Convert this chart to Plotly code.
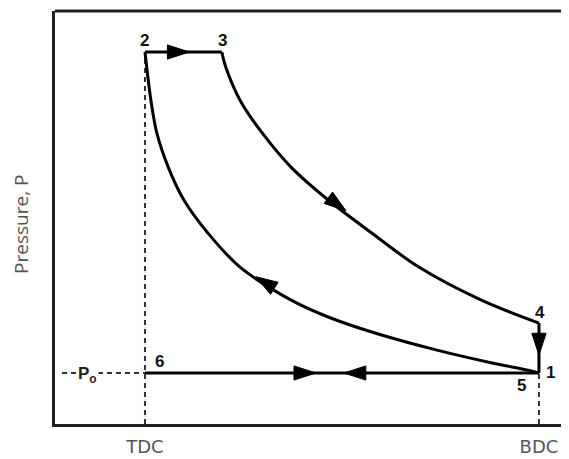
import plotly.graph_objects as go

# ---- data (volume V in arbitrary units, TDC=1, BDC=9; pressure P, P0=1) ----
# compression 1 -> 2
comp_V = [9.0, 8.78, 8.05, 6.93, 5.67, 4.72, 3.96, 2.93, 2.28, 1.79, 1.47, 1.24, 1.12, 1.0]
comp_P = [1.0, 1.08, 1.28, 1.64, 2.12, 2.57, 3.05, 3.97, 4.92, 5.85, 6.78, 7.73, 8.65, 10.0]
# expansion 3 -> 4
exp_V = [2.56, 2.64, 2.93, 3.38, 3.96, 4.72, 5.61, 6.56, 7.82, 9.0]
exp_P = [10.0, 9.58, 8.65, 7.73, 6.78, 5.85, 4.92, 3.97, 3.05, 2.40]
# state points
V_TDC, V_BDC = 1.0, 9.0
P_top, P_0, P_4 = 10.0, 1.0, 2.40
V_3 = 2.56
# arrows: (back point, tip point)
arrow_back_V = [1.60, 4.61, 3.62, 9.0, 4.00, 5.50]
arrow_back_P = [10.0, 6.03, 3.38, 2.00, 1.0, 1.0]
arrow_tip_V = [1.90, 5.08, 3.25, 9.0, 4.47, 5.04]
arrow_tip_P = [10.0, 5.55, 3.70, 1.50, 1.0, 1.0]
tick_vals = [V_TDC, V_BDC]
tick_text = ["TDC", "BDC"]

x_range = [-0.827, 9.61]
y_range = [-0.43, 11.15]

LINE = "#000000"
DASH = "#333333"

fig = go.Figure()

dash_style = dict(color=DASH, width=2, dash="5px,4px")
fig.add_trace(go.Scatter(x=[V_TDC, V_TDC], y=[y_range[0], P_top], mode="lines", line=dash_style))
fig.add_trace(go.Scatter(x=[V_BDC, V_BDC], y=[y_range[0], P_0], mode="lines", line=dash_style))
fig.add_trace(go.Scatter(x=[-0.685, V_TDC], y=[P_0, P_0], mode="lines", line=dash_style))

solid = dict(color=LINE, width=3)
fig.add_trace(go.Scatter(x=comp_V, y=comp_P, mode="lines", line=dict(solid, shape="spline", smoothing=1.0)))
fig.add_trace(go.Scatter(x=exp_V, y=exp_P, mode="lines", line=dict(solid, shape="spline", smoothing=1.0)))
fig.add_trace(go.Scatter(x=[V_TDC, V_3], y=[P_top, P_top], mode="lines", line=solid))
fig.add_trace(go.Scatter(x=[V_BDC, V_BDC], y=[P_4, P_0], mode="lines", line=solid))
fig.add_trace(go.Scatter(x=[V_TDC, V_BDC], y=[P_0, P_0], mode="lines", line=solid))

for bv, bp, tv, tp in zip(arrow_back_V, arrow_back_P, arrow_tip_V, arrow_tip_P):
    fig.add_trace(go.Scatter(
        x=[bv, tv], y=[bp, tp], mode="markers",
        marker=dict(symbol="arrow", size=[0, 23], angleref="previous", color=LINE,
                    opacity=1, line=dict(width=1, color=LINE))))

lab_font = dict(family="Liberation Sans, Arial, sans-serif", size=17, color="#111")
labels = [
    ("<b>2</b>", V_TDC, P_top, 0, 12),
    ("<b>3</b>", V_3, P_top, 1, 12),
    ("<b>4</b>", V_BDC, P_4, 1, 11),
    ("<b>1</b>", V_BDC, P_0, 12, 1),
    ("<b>5</b>", V_BDC, P_0, -17, -12),
    ("<b>6</b>", V_TDC, P_0, 15, 12),
]
for t, x, y, xs, ys in labels:
    fig.add_annotation(x=x, y=y, text=t, showarrow=False, xshift=xs, yshift=ys, font=lab_font)
fig.add_annotation(x=V_TDC, y=P_0, text="<b>P<sub>o</sub></b>", showarrow=False, xshift=-57, yshift=-2,
                   font=dict(family="Liberation Sans, Arial, sans-serif", size=17, color="#222"),
                   bgcolor="white")

fig.add_annotation(xref="paper", yref="paper", x=0, y=0.482, xshift=-34, xanchor="center", yanchor="middle",
                   text="Pressure, P", textangle=-90, showarrow=False,
                   font=dict(family="Open Sans, sans-serif", size=19, color="#555"))

fig.add_shape(type="line", xref="paper", yref="paper", x0=0, x1=1, y0=1, y1=1,
              line=dict(color="#222", width=3))

fig.update_layout(
    width=561, height=451,
    margin=dict(l=47, r=0, t=3, b=35),
    paper_bgcolor="white", plot_bgcolor="white",
    showlegend=False,
    xaxis=dict(range=x_range, showgrid=False, zeroline=False, showline=True, linecolor="#222",
               linewidth=3, tickvals=tick_vals, ticktext=tick_text, ticks="",
               ticklabelstandoff=4,
               tickfont=dict(family="DejaVu Sans, sans-serif", size=18, color="#555")),
    yaxis=dict(range=y_range, showgrid=False, zeroline=False, showline=True, linecolor="#222",
               linewidth=3, showticklabels=False, ticks=""),
)

fig.write_html("out.html")
